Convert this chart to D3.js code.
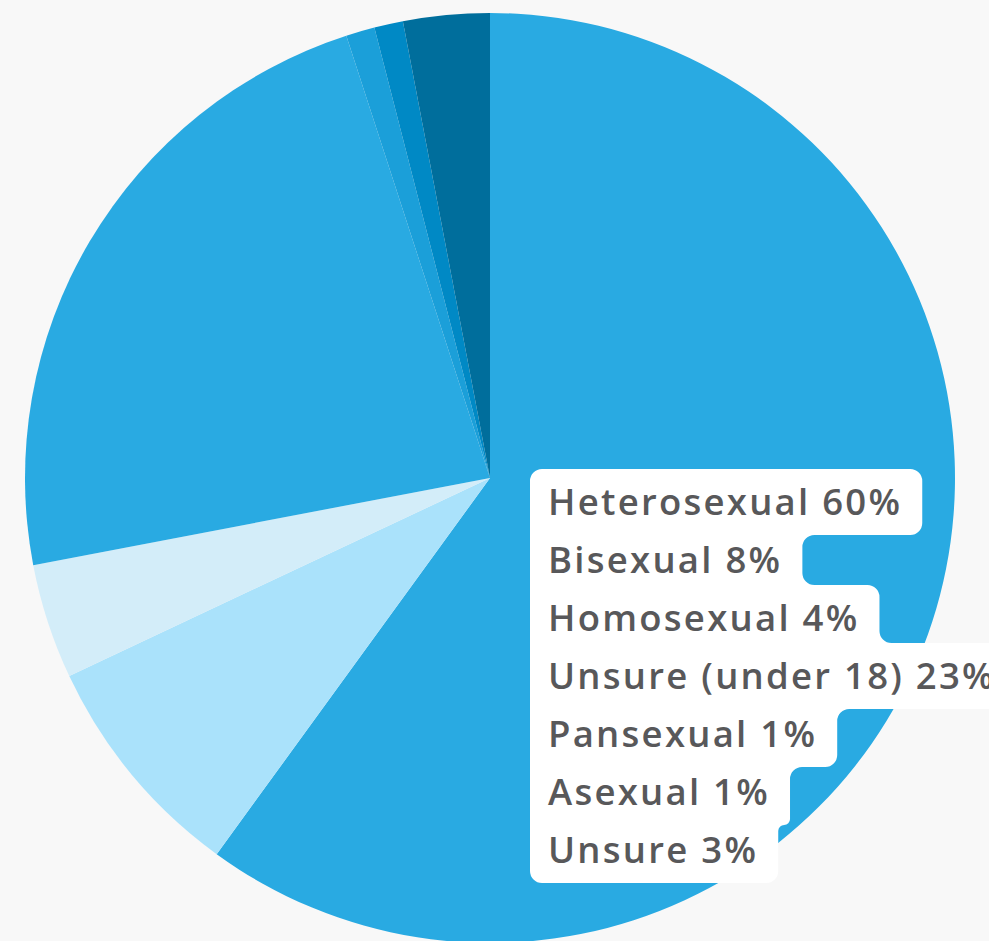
<!DOCTYPE html>
<html>
<head>
<meta charset="utf-8">
<script src="https://cdn.jsdelivr.net/npm/d3@7"></script>
<style>
  html, body { margin: 0; padding: 0; background: #f8f8f8; overflow: hidden; }
  svg { display: block; }
</style>
</head>
<body>
<svg id="chart" width="989" height="941"></svg>
<script>
// Survey answers, clockwise from 12 o'clock
const categories = ["Heterosexual", "Bisexual", "Homosexual", "Unsure (under 18)", "Pansexual", "Asexual", "Unsure"];
const shares = [60, 8, 4, 23, 1, 1, 3];
const sliceColors = ["#29aae2", "#aae2fb", "#d3edf9", "#29aae2", "#1b9fd9", "#0089c5", "#006e9c"];

const W = 989, H = 941;
const cx = 490, cy = 478, R = 465;

const svg = d3.select("#chart");

// Pie slices
const pie = d3.pie().sort(null).value(d => d.value).startAngle(0).endAngle(2 * Math.PI);
const arc = d3.arc().innerRadius(0).outerRadius(R);
const data = categories.map((c, i) => ({ name: c, value: shares[i], color: sliceColors[i] }));

svg.append("g")
  .attr("transform", `translate(${cx},${cy})`)
  .selectAll("path")
  .data(pie(data))
  .join("path")
  .attr("d", arc)
  .attr("fill", d => d.data.color);

// Label block: one row per category, merged into a single rounded outline
const labelG = svg.append("g");
const boxLeft = 530, textLeft = 548, firstBaseline = 515, lineStep = 58;
const capHalf = 13, rowHalf = 33, padRight = 20, cornerR = 12;
const fontSize = 36.5;

const texts = labelG.selectAll("text")
  .data(data)
  .join("text")
  .attr("x", textLeft)
  .attr("y", (d, i) => firstBaseline + i * lineStep)
  .attr("font-family", "'Open Sans', 'Noto Sans', sans-serif")
  .attr("font-weight", 600)
  .attr("font-size", fontSize)
  .attr("fill", "#58585a")
  .text(d => `${d.name} ${d.value}%`);

// spread letters so the first row spans its full width
const firstW = texts.node().getComputedTextLength();
const firstLen = texts.datum().name.length + 1 + String(texts.datum().value).length + 1;
const spacing = Math.max(0, (352 - firstW) / (firstLen - 1));
texts.attr("letter-spacing", spacing);

const rows = texts.nodes().map((n, i) => {
  const c = firstBaseline + i * lineStep - capHalf;
  return { top: c - rowHalf, bottom: c + rowHalf, right: textLeft + n.getComputedTextLength() + padRight };
});

// outline vertices, clockwise
const pts = [[boxLeft, rows[0].top], [rows[0].right, rows[0].top]];
for (let i = 0; i < rows.length - 1; i++) {
  const a = rows[i], b = rows[i + 1];
  if (Math.abs(a.right - b.right) < 0.5) continue;
  const y = a.right > b.right ? a.bottom : b.top;
  pts.push([a.right, y], [b.right, y]);
}
const last = rows[rows.length - 1];
pts.push([last.right, last.bottom], [boxLeft, last.bottom]);

function roundedPolygon(p, r) {
  const path = d3.path();
  const n = p.length;
  const mid = (a, b) => [(a[0] + b[0]) / 2, (a[1] + b[1]) / 2];
  const dist = (a, b) => Math.hypot(a[0] - b[0], a[1] - b[1]);
  const start = mid(p[n - 1], p[0]);
  path.moveTo(start[0], start[1]);
  for (let i = 0; i < n; i++) {
    const prev = p[(i - 1 + n) % n], cur = p[i], next = p[(i + 1) % n];
    const rr = Math.min(r, dist(prev, cur) / 2, dist(cur, next) / 2);
    path.arcTo(cur[0], cur[1], next[0], next[1], rr);
  }
  path.closePath();
  return path.toString();
}

labelG.insert("path", "text")
  .attr("d", roundedPolygon(pts, cornerR))
  .attr("fill", "#ffffff");
</script>
</body>
</html>
